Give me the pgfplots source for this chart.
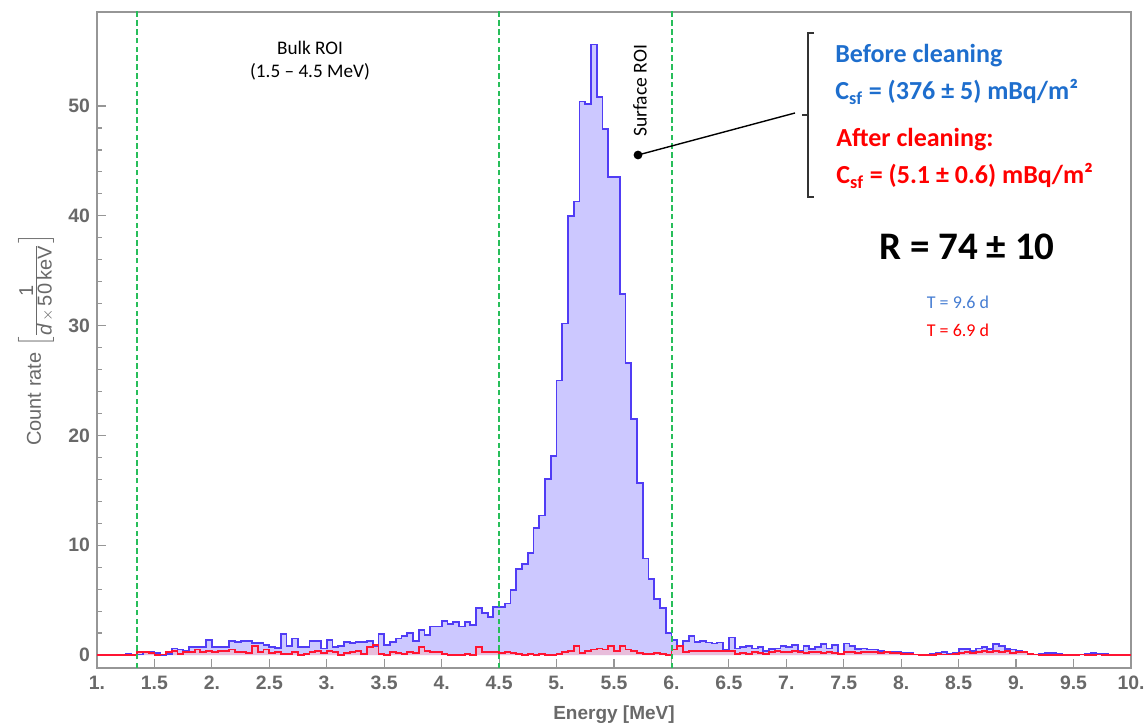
\documentclass[border=0pt]{standalone}
\usepackage{pgfplots}
\usepackage{pgfplotstable}
\pgfplotsset{compat=1.18}
\usepackage{fontspec}
\setmainfont{Liberation Sans}
\setsansfont{Liberation Sans}
\newfontfamily\carlito{Carlito}
\definecolor{bline}{RGB}{80,60,245}
\definecolor{bfill}{RGB}{204,200,255}
\definecolor{rline}{RGB}{255,20,50}
\definecolor{rfill}{RGB}{245,185,205}
\definecolor{gdash}{RGB}{40,190,90}
\definecolor{tblue}{RGB}{30,110,205}
\definecolor{tblue2}{RGB}{70,125,210}
\definecolor{framegray}{RGB}{150,150,150}
\definecolor{labgray}{RGB}{105,105,105}

\pgfplotstableread{
x y
1.25 0
1.25 0.1
1.30 0.0
1.35 0.05
1.40 0.3
1.45 0.25
1.50 0.15
1.55 0.0
1.60 0.1
1.65 0.6
1.70 0.5
1.75 0.35
1.80 0.7
1.85 0.7
1.90 0.75
1.95 1.4
2.00 0.7
2.05 0.7
2.10 0.7
2.15 1.3
2.20 1.2
2.25 1.3
2.30 1.3
2.35 1.1
2.40 1.1
2.45 0.9
2.50 0.7
2.55 0.65
2.60 1.9
2.65 0.8
2.70 1.5
2.75 0.7
2.80 0.7
2.85 1.3
2.90 1.3
2.95 0.6
3.00 1.4
3.05 0.7
3.10 0.8
3.15 1.2
3.20 1.1
3.25 1.2
3.30 1.2
3.35 1.3
3.40 0.8
3.45 1.9
3.50 0.9
3.55 1.2
3.60 1.5
3.65 1.7
3.70 2.0
3.75 1.3
3.80 2.3
3.85 1.8
3.90 2.6
3.95 2.6
4.00 3.1
4.05 2.8
4.10 3.0
4.15 2.6
4.20 3.0
4.25 2.7
4.30 4.3
4.35 3.8
4.40 3.5
4.45 4.4
4.50 4.4
4.55 4.7
4.60 5.9
4.65 7.8
4.70 8.3
4.75 9.3
4.80 11.6
4.85 12.7
4.90 16.0
4.95 18.1
5.00 25.0
5.05 30.2
5.10 40.0
5.15 41.3
5.20 50.4
5.25 50.2
5.30 55.6
5.35 50.8
5.40 47.9
5.45 43.5
5.50 43.5
5.55 32.9
5.60 26.6
5.65 21.5
5.70 15.7
5.75 8.8
5.80 6.9
5.85 5.1
5.90 4.3
5.95 2.0
6.00 1.4
6.05 0.85
6.10 1.3
6.15 1.7
6.20 1.2
6.25 1.3
6.30 1.15
6.35 1.05
6.40 1.15
6.45 0.5
6.50 1.6
6.55 0.6
6.60 0.7
6.65 0.85
6.70 0.6
6.75 0.7
6.80 0.4
6.85 0.55
6.90 0.6
6.95 0.8
7.00 0.7
7.05 0.9
7.10 0.4
7.15 0.85
7.20 0.55
7.25 0.7
7.30 1.0
7.35 0.6
7.40 0.9
7.45 0.1
7.50 1.05
7.55 0.8
7.60 0.55
7.65 0.6
7.70 0.5
7.75 0.5
7.80 0.4
7.85 0.3
7.90 0.25
7.95 0.3
8.00 0.2
8.05 0.15
8.10 0.05
8.15 0.0
8.20 0.05
8.25 0.1
8.30 0.2
8.35 0.25
8.40 0.1
8.45 0.15
8.50 0.55
8.55 0.55
8.60 0.4
8.65 0.6
8.70 0.7
8.75 0.55
8.80 1.0
8.85 0.8
8.90 0.55
8.95 0.5
9.00 0.4
9.05 0.25
9.10 0.1
9.15 0.05
9.20 0.1
9.25 0.15
9.30 0.15
9.35 0.1
9.40 0.05
9.45 0.0
9.50 0.0
9.55 0.05
9.60 0.1
9.65 0.2
9.70 0.1
9.75 0.1
9.80 0.05
9.85 0.05
9.90 0.0
9.95 0.0
}\blue

\pgfplotstableread{
x y
1.00 0
1.35 0.25
1.40 0.3
1.45 0.15
1.50 0.0
1.55 0.05
1.60 0.3
1.65 0.4
1.70 0.1
1.75 0.3
1.80 0.3
1.85 0.5
1.90 0.3
1.95 0.4
2.00 0.3
2.05 0.4
2.10 0.4
2.15 0.5
2.20 0.3
2.25 0.3
2.30 0.2
2.35 0.8
2.40 0.3
2.45 0.5
2.50 0.2
2.55 0.3
2.60 0.1
2.65 0.1
2.70 0.3
2.75 0.0
2.80 0.1
2.85 0.3
2.90 0.4
2.95 0.2
3.00 0.4
3.05 0.3
3.10 0.0
3.15 0.2
3.20 0.3
3.25 0.4
3.30 0.1
3.35 0.7
3.40 0.9
3.45 0.1
3.50 0.0
3.55 0.3
3.60 0.2
3.65 0.1
3.70 0.3
3.75 0.2
3.80 0.7
3.85 0.4
3.90 0.3
3.95 0.3
4.00 0.1
4.05 0.0
4.20 0.1
4.25 0.0
4.30 0.7
4.35 0.3
4.50 0.2
4.55 0.3
4.60 0.2
4.65 0.1
4.70 0.0
4.75 0.1
4.80 0.0
4.85 0.1
4.90 0.0
5.00 0.1
5.05 0.3
5.10 0.4
5.15 0.8
5.20 0.2
5.25 0.4
5.30 0.5
5.35 0.6
5.40 0.5
5.45 0.8
5.50 0.4
5.55 0.8
5.60 0.5
5.65 0.4
5.70 0.2
5.75 0.1
5.85 0.2
5.90 0.1
5.95 0.0
6.00 0.5
6.05 0.8
6.10 0.3
6.15 0.4
6.20 0.35
6.50 0.4
6.55 0.1
6.60 0.2
6.65 0.1
6.70 0.25
6.75 0.2
6.80 0.1
6.85 0.3
6.90 0.4
6.95 0.25
7.00 0.3
7.05 0.35
7.10 0.3
7.15 0.2
7.20 0.3
7.25 0.3
7.30 0.2
7.35 0.3
7.40 0.2
7.45 0.1
7.50 0.25
7.55 0.3
7.60 0.2
7.65 0.3
7.70 0.25
7.75 0.3
7.80 0.2
7.85 0.25
7.90 0.2
7.95 0.15
8.00 0.1
8.10 0.05
8.15 0.0
8.30 0.1
8.35 0.05
8.45 0.1
8.50 0.2
8.55 0.25
8.60 0.15
8.65 0.3
8.70 0.35
8.75 0.25
8.80 0.4
8.85 0.3
8.90 0.35
8.95 0.2
9.00 0.3
9.05 0.3
9.10 0.1
9.15 0.05
9.20 0.0
9.55 0.05
9.60 0.0
9.70 0.05
9.75 0.0
10.0 0.0
}\red

\begin{document}
\begin{tikzpicture}
\path[use as bounding box] (-48.5pt,-29.5pt) rectangle (525pt,334pt);
\begin{axis}[
  at={(0pt,0pt)}, anchor=south west,
  scale only axis, width=517pt, height=328pt,
  xmin=1, xmax=10, ymin=-1.18, ymax=58.56,
  axis line style={framegray, line width=0.8pt},
  xtick={1,1.5,...,10},
  xticklabels={1.,1.5,2.,2.5,3.,3.5,4.,4.5,5.,5.5,6.,6.5,7.,7.5,8.,8.5,9.,9.5,10.},
  ytick={0,10,20,30,40,50}, minor y tick num=4,
  tick align=inside, xtick pos=lower, ytick pos=left,
  major tick length=4.5pt, minor tick length=2.5pt,
  tick style={framegray, line width=0.6pt},
  /pgf/number format/assume math mode=true,
  tick label style={font=\sffamily\bfseries\fontsize{9.7}{11}\selectfont, text=labgray},
  xticklabel style={yshift=-0.5pt},
  xlabel={Energy [MeV]},
  ylabel={Count rate $\left[\frac{\mbox{1}}{\mbox{\itshape d}\,{\times}\,\mbox{50\,keV}}\right]$},
  xlabel style={at={(axis description cs:0.5,-0.0715)}, anchor=center, font=\sffamily\bfseries\fontsize{9.5}{11}\selectfont, text=labgray},
  ylabel style={at={(axis description cs:-0.0590,0.5)}, anchor=center, inner sep=0pt, font=\sffamily\fontsize{10}{12}\selectfont, text=labgray},
  clip=true,
]
\addplot[const plot, draw=none, fill=bfill] table[x=x,y=y]{\blue} \closedcycle;
\addplot[const plot, draw=none, fill=rfill, fill opacity=0.7] table[x=x,y=y]{\red} \closedcycle;
\addplot[const plot, bline, line width=0.9pt] table[x=x,y=y]{\blue};
\addplot[const plot, rline, line width=0.9pt] table[x=x,y=y]{\red};
\addplot[gdash, line width=1pt, dash pattern=on 2.8pt off 1.6pt] coordinates {(1.35,-2) (1.35,60)};
\addplot[gdash, line width=1pt, dash pattern=on 2.8pt off 1.6pt] coordinates {(4.5,-2) (4.5,60)};
\addplot[gdash, line width=1pt, dash pattern=on 2.8pt off 1.6pt] coordinates {(6.002,-2) (6.002,60)};
\end{axis}
\begin{scope}[x=0.5pt,y=-0.5pt,xshift=-48.5pt,yshift=334pt]
  \node[font=\carlito\fontsize{9.6}{11}\selectfont, align=center] at (310,61) {Bulk ROI\\[0.5pt](1.5 – 4.5 MeV)};
  \node[font=\carlito\fontsize{9.8}{11}\selectfont, rotate=90] at (640,91) {Surface ROI};
  \fill (638,155) circle (2.2pt);
  \draw[line width=0.7pt] (638,155) -- (795,113);
  \draw[line width=0.7pt, black!80] (814,33) -- (808,33) -- (808,197) -- (814,197);
  \draw[line width=0.7pt, black!80] (802,115) -- (808,115);
  \node[anchor=west, inner sep=0, text=tblue, font=\carlito\bfseries\fontsize{13}{15}\selectfont] at (835,56) {Before cleaning};
  \node[anchor=west, inner sep=0, text=tblue, font=\carlito\bfseries\fontsize{13}{15}\selectfont] at (835,92) {C\textsubscript{sf} = (376 ± 5) mBq/m²};
  \node[anchor=west, inner sep=0, text=red, font=\carlito\bfseries\fontsize{13}{15}\selectfont] at (836,140) {After cleaning:};
  \node[anchor=west, inner sep=0, text=red, font=\carlito\bfseries\fontsize{13}{15}\selectfont] at (836,176) {C\textsubscript{sf} = (5.1 ± 0.6) mBq/m²};
  \node[font=\carlito\bfseries\fontsize{19.5}{22}\selectfont] at (967,247) {R = 74 ± 10};
  \node[text=tblue2, font=\carlito\fontsize{9}{11}\selectfont] at (958,302) {T = 9.6 d};
  \node[text=red, font=\carlito\fontsize{9}{11}\selectfont] at (958,330) {T = 6.9 d};
\end{scope}
\end{tikzpicture}
\end{document}
